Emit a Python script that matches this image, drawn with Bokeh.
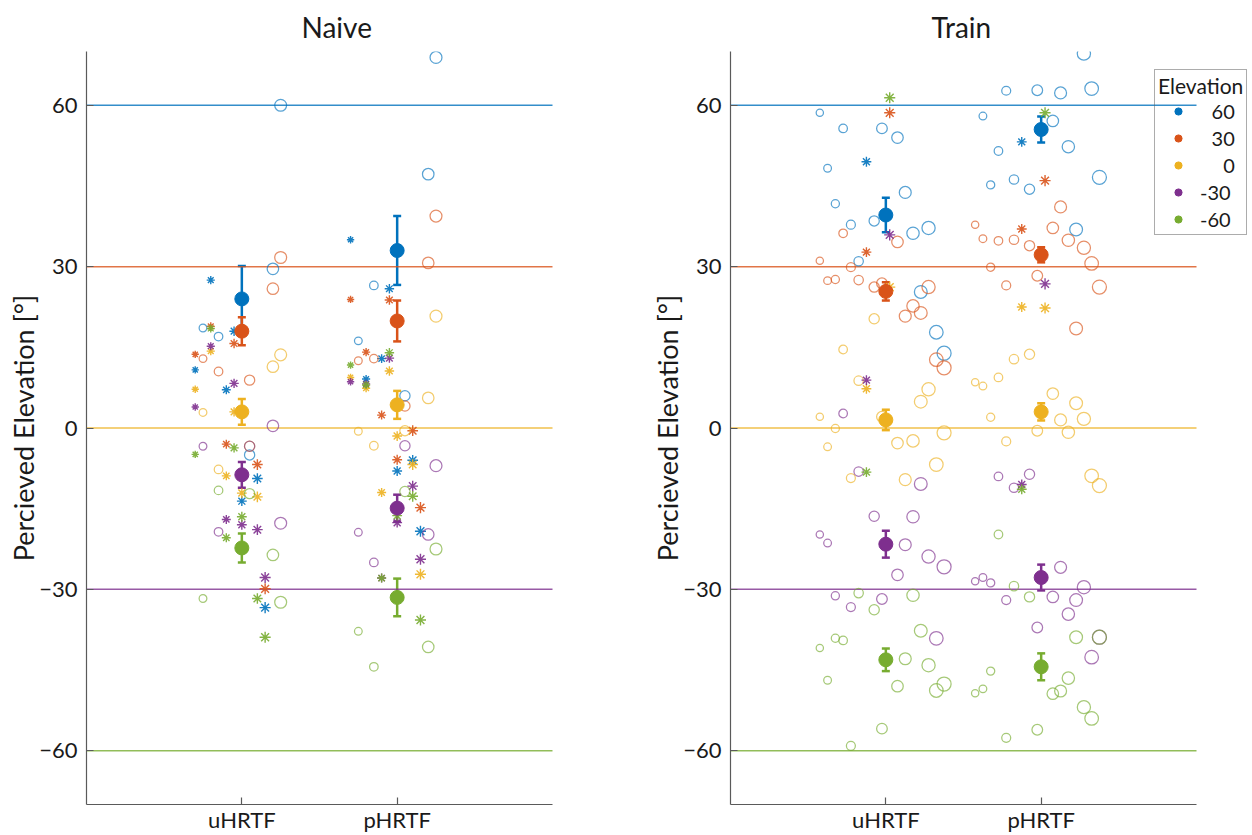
import numpy as np
from bokeh.plotting import figure
from bokeh.models import (Whisker, ColumnDataSource, FixedTicker, Legend,
                          LegendItem, TeeHead, Range1d)
from bokeh.layouts import row
from bokeh.embed import file_html
from bokeh.resources import INLINE

# ---------------- data ----------------
elevations = [60, 30, 0, -30, -60]
elevation_labels = ["60", "30", "0", "-30", "-60"]
conditions = ["uHRTF", "pHRTF"]
colors = ["#0072BD", "#D95319", "#EDB120", "#7E2F8E", "#77AC30"]

# 1 = subject included in the mean (circle), 0 = excluded (asterisk)
naive_included = [0, 1, 0, 1, 0, 0, 0, 1, 0, 0, 1, 1]
train_included = [1, 1, 1, 1, 1, 1, 0, 1, 1, 0, 1, 1, 1, 1, 1, 1, 1]

N = None
# rows: target elevation 60, 30, 0, -30, -60 ; columns: subjects
naive_uhrtf = [
    [10.8, 18.6, 27.5, 17.0, 7.1, 18.0, -13.6, -5.0, -9.4, -33.4, 29.6, 60.0],
    [13.7, 12.9, 18.9, 10.5, -3.0, 15.7, N, 8.9, -6.8, -29.9, 25.9, 31.7],
    [7.2, 2.9, 14.3, -7.7, -8.9, 3.0, -12.1, -3.4, -12.8, N, 11.4, 13.6],
    [3.9, -3.4, 15.2, -19.3, -17.0, 8.3, -18.0, -3.4, -18.9, -27.8, 0.4, -17.7],
    [-4.9, -31.7, 18.5, -11.6, -20.4, -3.7, -16.5, -12.2, -31.7, -38.9, -23.6, -32.4],
]
naive_phrtf = [
    [35.0, 16.2, 9.1, 26.5, 12.9, 25.9, -8.0, 6.0, -6.0, -19.2, 47.2, 68.9],
    [23.9, 12.5, 14.1, 12.9, 2.4, 23.8, -5.9, 4.1, -0.5, -14.8, 30.7, 39.4],
    [9.4, -0.6, 7.4, -3.3, -12.0, 10.6, -1.5, -0.5, -6.8, -27.2, 5.6, 20.8],
    [8.6, -19.4, 8.2, -25.0, -27.9, 13.0, -17.6, -3.3, -10.8, -24.4, -19.8, -7.0],
    [11.7, -37.8, 8.0, -44.4, -27.9, 14.0, -16.3, -11.8, -12.7, -35.7, -40.7, -22.5],
]
naive_mean_uhrtf = [24.0, 18.0, 3.0, -8.7, -22.3]
naive_err_uhrtf = [6.1, 2.6, 2.4, 2.4, 2.7]
naive_mean_phrtf = [33.0, 19.9, 4.3, -14.9, -31.5]
naive_err_phrtf = [6.4, 3.8, 2.6, 2.5, 3.5]

train_uhrtf = [
    [58.6, 48.3, 41.7, 55.7, 37.8, 31.0, 49.5, 38.5, 55.7, N, 54.0, 43.8, 36.2, 25.3, 37.2, 17.8, 13.9],
    [31.1, 27.4, 27.6, 36.2, 29.9, 27.5, 32.7, 26.2, 26.9, 58.6, 34.6, 20.8, 22.7, 21.4, 26.2, 12.7, 11.2],
    [2.1, -3.5, -0.1, 14.6, -9.3, 8.8, 7.3, 20.3, 2.1, 26.2, -2.8, -9.6, -2.4, 4.9, 7.2, -6.8, -0.9],
    [-19.8, -21.4, -31.2, 2.7, -33.3, -8.1, 8.9, -16.4, -31.8, 35.9, -27.3, -21.7, -16.5, -10.4, -23.9, -39.1, -25.8],
    [-40.9, -46.9, -39.1, -39.5, -59.1, -30.7, -8.2, -33.8, -55.9, 61.4, -48.0, -42.9, -31.1, -37.7, -44.1, -48.8, -47.6],
]
train_phrtf = [
    [N, 58.0, 45.2, 51.5, 62.7, 46.2, 53.2, 44.4, 62.8, N, 57.1, 62.3, 52.3, 36.9, 69.6, 63.1, 46.6],
    [37.8, 35.2, 29.9, 34.8, 26.5, 35.0, 37.0, 33.9, 28.3, 46.0, 37.2, 41.1, 34.9, 18.5, 33.5, 30.6, 26.2],
    [8.5, 7.8, 2.0, 9.4, -2.5, 12.8, 22.5, 13.7, -0.5, 22.3, 6.4, 1.5, -0.8, 4.6, 1.7, -8.9, -10.7],
    [-28.5, -27.8, -28.8, -9.0, -32.0, -11.1, -10.5, -8.6, -37.1, 26.8, -31.4, -25.9, -34.6, -32.0, -29.6, -42.6, -38.9],
    [-49.3, -48.5, -45.2, -19.8, -57.6, -29.4, -11.4, -31.4, -56.1, 58.6, -49.4, -48.9, -46.5, -38.9, -51.9, -54.0, -38.9],
]
train_mean_uhrtf = [39.6, 25.4, 1.5, -21.6, -43.1]
train_err_uhrtf = [3.2, 1.7, 1.9, 2.5, 2.1]
train_mean_phrtf = [55.5, 32.2, 3.0, -27.8, -44.4]
train_err_phrtf = [2.4, 1.4, 1.6, 2.4, 2.5]

FONT = "Lato"
TEXT = "#1a1a1a"
AXIS = "#5a5a5a"
X_LO, X_HI = 0, 3          # data extent of the axes
PX_PER_UNIT = 466 / 3.0    # horizontal scale shared by both panels


def make_panel(title, cond_data, included, means, errs, width, bl, br):
    frame_w = width - bl - br
    p = figure(width=width, height=835,
               x_range=Range1d(X_LO, X_LO + frame_w / PX_PER_UNIT),
               y_range=Range1d(-70, 70),
               output_backend="svg", toolbar_location=None, title=title,
               min_border_left=bl, min_border_right=br, min_border_top=51,
               min_border_bottom=30)
    p.outline_line_color = None
    p.xgrid.visible = False
    p.ygrid.visible = False
    p.background_fill_color = "white"
    p.border_fill_color = "white"

    p.title.text_font = FONT
    p.title.text_font_size = "28px"
    p.title.text_font_style = "normal"
    p.title.text_color = TEXT
    p.title.standoff = 15
    p.title.align = "left"

    # reference lines at each target elevation, limited to the axis extent
    p.segment(x0=[X_LO] * len(elevations), x1=[X_HI] * len(elevations),
              y0=elevations, y1=elevations, line_color=colors,
              line_alpha=0.8, line_width=1.5)

    n = len(included)
    idx = np.arange(n)
    offsets = (idx - (n - 1) / 2 - 0.5) * 0.05
    sizes = 7.3 + 0.42 * idx

    for ci, data in enumerate(cond_data):
        xc = ci + 1
        for ei, color in enumerate(colors):
            vals = data[ei]
            cx, cy, cs, ax, ay, asz = [], [], [], [], [], []
            for k in range(n):
                v = vals[k]
                if v is None:
                    continue
                if included[k]:
                    cx.append(xc + offsets[k]); cy.append(v); cs.append(sizes[k])
                else:
                    ax.append(xc + offsets[k]); ay.append(v); asz.append(sizes[k])
            p.scatter(cx, cy, size=cs, marker="circle", fill_color=None,
                      line_color=color, line_alpha=0.65, line_width=1.25)
            p.scatter(ax, ay, size=asz, marker="asterisk", line_color=color,
                      line_alpha=0.9, line_width=1.4)

    mean_renderers = []
    for ci in range(2):
        xc = ci + 1
        for ei, color in enumerate(colors):
            m = means[ci][ei]
            e = errs[ci][ei]
            src = ColumnDataSource(dict(x=[xc], upper=[m + e], lower=[m - e]))
            w = Whisker(base="x", upper="upper", lower="lower", source=src,
                        line_color=color, line_width=2.5,
                        upper_head=TeeHead(size=8, line_color=color, line_width=2.5),
                        lower_head=TeeHead(size=8, line_color=color, line_width=2.5))
            p.add_layout(w)
            r = p.scatter([xc], [m], size=14, marker="circle", fill_color=color,
                          line_color=color)
            if ci == 0:
                mean_renderers.append(r)

    p.xaxis.ticker = FixedTicker(ticks=[1, 2])
    p.xaxis.major_label_overrides = {1: conditions[0], 2: conditions[1]}
    p.xaxis.bounds = (X_LO, X_HI)
    p.yaxis.ticker = FixedTicker(ticks=elevations)
    p.yaxis.axis_label = "Percieved Elevation [°]"
    for ax in (p.xaxis, p.yaxis):
        ax.axis_line_color = AXIS
        ax.axis_line_width = 1.2
        ax.major_tick_line_color = AXIS
        ax.major_tick_line_width = 1.2
        ax.major_tick_in = 7
        ax.major_tick_out = 0
        ax.minor_tick_line_color = None
        ax.major_label_text_font = FONT
        ax.major_label_text_font_size = "22px"
        ax.major_label_text_color = TEXT
        ax.axis_label_text_font = FONT
        ax.axis_label_text_font_size = "27px"
        ax.axis_label_text_font_style = "normal"
        ax.axis_label_text_color = TEXT
    p.yaxis.major_label_standoff = 9
    p.yaxis.axis_label_standoff = -4
    p.xaxis.major_label_standoff = 1
    return p, mean_renderers


p1, _ = make_panel("Naive", [naive_uhrtf, naive_phrtf], naive_included,
                   [naive_mean_uhrtf, naive_mean_phrtf], [naive_err_uhrtf, naive_err_phrtf],
                   640, 86, 87)
p1.title.offset = 215

p2, train_means = make_panel("Train", [train_uhrtf, train_phrtf], train_included,
                             [train_mean_uhrtf, train_mean_phrtf],
                             [train_err_uhrtf, train_err_phrtf],
                             612, 90, 0)
p2.title.offset = 201

# legend (labels right-aligned with figure spaces)
items = []
for lab, r in zip(elevation_labels, train_means):
    pad = "\u2007" * (2 - len(lab.lstrip("-"))) + ("\u2007" if not lab.startswith("-") else "")
    items.append(LegendItem(label=pad + lab, renderers=[r]))
legend = Legend(items=items, title="Elevation", location=(424, 569))
legend.title_text_font = FONT
legend.title_text_font_size = "21px"
legend.title_text_font_style = "normal"
legend.title_text_color = TEXT
legend.title_standoff = 1
legend.label_text_font = FONT
legend.label_text_font_size = "20px"
legend.label_text_color = TEXT
legend.glyph_width = 40
legend.glyph_height = 18
legend.label_height = 20
legend.label_standoff = 2
legend.spacing = 3
legend.padding = 3
legend.margin = 0
legend.border_line_color = AXIS
legend.border_line_width = 1
legend.background_fill_alpha = 0
p2.add_layout(legend)

layout = row(p1, p2)
open("out.html", "w").write(file_html(layout, INLINE))
